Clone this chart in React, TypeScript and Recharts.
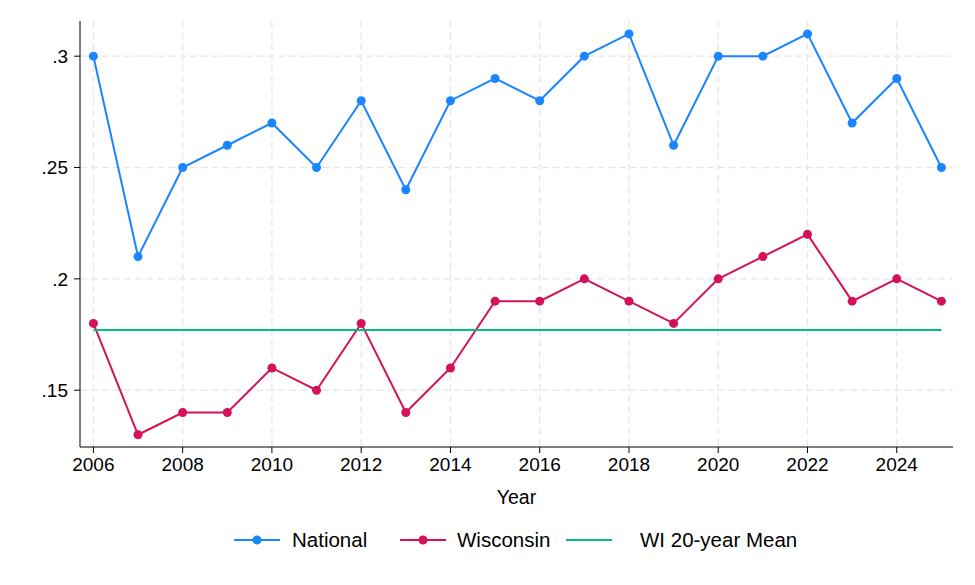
import React from 'react';
import { LineChart, Line, XAxis, YAxis, CartesianGrid, Legend } from 'recharts';

const years = [2006, 2007, 2008, 2009, 2010, 2011, 2012, 2013, 2014, 2015, 2016, 2017, 2018, 2019, 2020, 2021, 2022, 2023, 2024, 2025];
const national = [0.30, 0.21, 0.25, 0.26, 0.27, 0.25, 0.28, 0.24, 0.28, 0.29, 0.28, 0.30, 0.31, 0.26, 0.30, 0.30, 0.31, 0.27, 0.29, 0.25];
const wisconsin = [0.18, 0.13, 0.14, 0.14, 0.16, 0.15, 0.18, 0.14, 0.16, 0.19, 0.19, 0.20, 0.19, 0.18, 0.20, 0.21, 0.22, 0.19, 0.20, 0.19];
const meanYears = [2006, 2025];
const meanValues = [0.177, 0.177];
const xTicks = [2006, 2008, 2010, 2012, 2014, 2016, 2018, 2020, 2022, 2024];
const yTicks = [0.15, 0.2, 0.25, 0.3];

const BLUE = '#1a85ff';
const RED = '#d41159';
const GREEN = '#00bf7f';
const FONT = '"Liberation Sans", Arial, sans-serif';

const data = years.map((y, i) => ({ year: y, national: national[i], wisconsin: wisconsin[i] }));
const meanData = meanYears.map((y, i) => ({ year: y, mean: meanValues[i] }));

const legendItems = [
  { label: 'National', color: BLUE, dot: true, left: 234, textLeft: 292 },
  { label: 'Wisconsin', color: RED, dot: true, left: 400, textLeft: 457 },
  { label: 'WI 20-year Mean', color: GREEN, dot: false, left: 566, textLeft: 640 },
];

const LegendContent = () => (
  <div style={{ position: 'relative', width: 975, height: 40, fontFamily: FONT, fontSize: 20.5, color: '#000' }}>
    {legendItems.map((it) => (
      <React.Fragment key={it.label}>
        <svg style={{ position: 'absolute', left: it.left, top: 12 }} width={46} height={16}>
          <line x1={0} y1={8} x2={46} y2={8} stroke={it.color} strokeWidth={2} />
          {it.dot && <circle cx={23} cy={8} r={4.5} fill={it.color} />}
        </svg>
        <span style={{ position: 'absolute', left: it.textLeft, top: 7, lineHeight: '26px', whiteSpace: 'nowrap' }}>{it.label}</span>
      </React.Fragment>
    ))}
  </div>
);

const fmtY = (v: number) => String(v).replace(/^0/, '');

export default function App() {
  return (
    <div style={{ position: 'absolute', left: 0, top: 0, width: 975, height: 585, background: '#fff' }}>
      <LineChart width={975} height={585} data={data} margin={{ top: 21, right: 22, left: 0, bottom: 25 }} style={{ fontFamily: FONT }}>
        <CartesianGrid stroke="#e6e6e6" strokeDasharray="7 4" strokeWidth={1.3} syncWithTicks />
        <XAxis
          dataKey="year"
          type="number"
          domain={[2005.7, 2025.26]}
          ticks={xTicks}
          allowDataOverflow
          height={73}
          tickSize={6}
          tickMargin={5}
          tick={{ fill: '#000', fontSize: 19 }}
          stroke="#000"
          label={{ value: 'Year', position: 'insideBottom', offset: 16, fill: '#000', fontSize: 19.5 }}
        />
        <YAxis
          type="number"
          domain={[0.1245, 0.3158]}
          ticks={yTicks}
          allowDataOverflow
          width={80}
          tickSize={6}
          tickMargin={6}
          tickFormatter={fmtY}
          tick={{ fill: '#000', fontSize: 19 }}
          stroke="#000"
        />
        <Legend verticalAlign="bottom" content={<LegendContent />} wrapperStyle={{ left: 0, width: 975, height: 40 }} />
        <Line dataKey="national" stroke={BLUE} strokeWidth={2} dot={{ r: 4.5, fill: BLUE, stroke: BLUE, strokeWidth: 0 }} activeDot={false} isAnimationActive={false} />
        <Line dataKey="wisconsin" stroke={RED} strokeWidth={2} dot={{ r: 4.5, fill: RED, stroke: RED, strokeWidth: 0 }} activeDot={false} isAnimationActive={false} />
        <Line data={meanData} dataKey="mean" stroke={GREEN} strokeWidth={2} dot={false} activeDot={false} isAnimationActive={false} />
      </LineChart>
    </div>
  );
}
